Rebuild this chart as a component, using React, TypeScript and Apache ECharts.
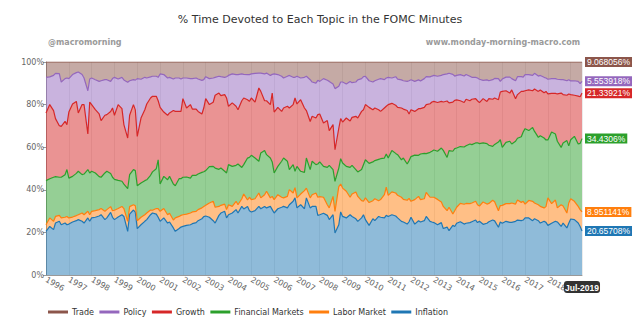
import React, { useEffect, useRef } from "react";
import * as echarts from "echarts";

// ---- categories / schedule ----
const legendOrder = ["Trade", "Policy", "Growth", "Financial Markets", "Labor Market", "Inflation"];
const firstYear = 1996;
const lastYear = 2019;
const meetingMonths = [1, 3, 5, 6, 8, 9, 11, 12];
const finalYearMonths = [1, 3, 5, 6, 7];
const monthNames = ["Jan", "Feb", "Mar", "Apr", "May", "Jun", "Jul", "Aug", "Sep", "Oct", "Nov", "Dec"];

// ---- series values (% share of minutes), one row per year ----
const trade = [
  7.2, 7.0, 6.3, 5.3, 5.5, 9.4, 7.8, 7.5,
  7.8, 5.9, 5.0, 4.7, 5.9, 7.5, 13.5, 8.0,
  7.5, 8.3, 9.1, 8.8, 8.3, 8.3, 9.1, 7.8,
  7.2, 8.0, 7.2, 8.4, 9.5, 8.8, 8.3, 8.5,
  7.8, 8.1, 7.2, 7.5, 7.0, 6.7, 6.7, 7.2,
  5.6, 5.9, 7.5, 7.2, 8.0, 7.5, 7.5, 8.0,
  7.5, 7.5, 7.8, 7.8, 7.5, 8.0, 8.6, 8.3,
  6.9, 7.8, 7.5, 7.2, 6.7, 6.9, 7.2, 6.9,
  6.3, 5.6, 5.9, 5.9, 5.6, 5.8, 5.9, 5.9,
  5.6, 5.3, 5.2, 5.2, 5.6, 5.2, 6.3, 5.8,
  5.6, 5.9, 6.7, 7.5, 6.7, 6.3, 7.2, 7.2,
  6.7, 7.5, 7.2, 6.7, 8.3, 9.4, 9.9, 8.6,
  9.1, 7.8, 8.6, 9.1, 10.3, 12.5, 11.4, 9.4,
  9.4, 10.3, 9.1, 9.7, 9.4, 8.4, 7.8, 6.9,
  6.7, 8.8, 9.4, 8.8, 8.1, 7.8, 8.3, 7.5,
  7.2, 7.5, 6.9, 8.0, 8.4, 8.8, 9.1, 8.8,
  8.3, 9.1, 8.4, 8.9, 7.8, 6.9, 7.0, 6.6,
  6.3, 6.7, 6.3, 5.9, 5.6, 5.3, 5.8, 6.6,
  6.3, 5.9, 6.6, 5.9, 6.7, 7.2, 7.2, 7.5,
  8.1, 8.6, 8.4, 8.8, 8.3, 7.7, 7.8, 9.1,
  8.0, 7.1, 7.1, 7.8, 8.8, 6.9, 6.9, 7.1,
  5.9, 5.9, 6.3, 5.3, 6.6, 6.3, 7.2, 7.5,
  8.1, 7.8, 7.8, 8.1, 8.3, 8.3, 8.8, 8.3,
  8.9, 8.8, 9.1, 10.2, 9.068056,
];

const policy = [
  16.7, 13.0, 16.5, 21.3, 24.4, 20.8, 20.1, 21.9,
  15.7, 13.8, 13.5, 19.2, 14.1, 12.5, 20.3, 10.8,
  12.5, 14.1, 15.3, 18.7, 16.7, 16.4, 14.1, 13.8,
  17.8, 12.0, 14.7, 21.0, 26.2, 16.2, 11.7, 14.0,
  27.1, 18.2, 15.2, 12.2, 9.9, 9.4, 9.4, 11.0,
  15.7, 17.6, 17.5, 16.7, 14.8, 15.7, 15.7, 15.2,
  9.7, 14.1, 12.2, 14.3, 14.6, 15.2, 15.8, 13.3,
  10.3, 12.2, 11.4, 8.4, 7.9, 8.9, 8.1, 10.0,
  14.5, 13.6, 14.9, 16.5, 12.6, 11.1, 11.8, 12.6,
  11.3, 13.5, 7.0, 8.6, 12.6, 13.0, 13.7, 8.8,
  17.9, 15.4, 16.5, 14.1, 14.1, 15.3, 12.8, 9.7,
  13.0, 10.2, 14.4, 16.1, 19.6, 16.1, 16.4, 16.1,
  15.3, 20.8, 18.9, 23.1, 19.1, 28.7, 19.7, 17.2,
  18.8, 16.0, 18.6, 16.3, 16.1, 17.9, 15.4, 15.5,
  13.3, 12.5, 13.0, 12.8, 14.3, 15.4, 13.3, 13.3,
  12.8, 11.9, 13.4, 13.3, 13.2, 13.3, 13.7, 15.6,
  14.1, 14.1, 13.5, 13.0, 13.5, 13.1, 12.6, 12.2,
  12.2, 12.3, 12.2, 12.9, 12.7, 13.9, 13.0, 11.4,
  11.5, 12.3, 12.4, 11.6, 11.5, 10.3, 10.0, 10.7,
  11.0, 8.6, 10.1, 8.4, 9.2, 9.2, 9.9, 5.0,
  5.8, 6.4, 7.5, 5.3, 8.4, 8.4, 6.9, 6.7,
  7.6, 7.2, 7.2, 7.4, 7.2, 6.8, 7.2, 6.3,
  6.9, 6.9, 6.9, 6.9, 6.3, 7.0, 6.8, 6.7,
  6.4, 6.8, 6.9, 6.1, 5.553918,
];

const growth = [
  31.8, 34.8, 31.3, 27.2, 24.2, 23.9, 25.0, 21.1,
  31.0, 34.0, 33.8, 27.4, 32.9, 32.6, 16.7, 33.3,
  31.3, 29.7, 29.4, 26.6, 27.1, 26.6, 29.1, 32.5,
  30.1, 35.6, 34.1, 27.9, 23.8, 27.9, 30.5, 28.5,
  23.2, 30.5, 33.3, 35.6, 36.3, 35.5, 34.0, 27.7,
  36.0, 30.2, 30.3, 29.8, 34.5, 34.9, 31.6, 31.6,
  36.9, 32.4, 34.5, 31.1, 31.1, 29.4, 27.4, 29.9,
  33.8, 29.1, 30.1, 34.2, 35.8, 34.0, 36.0, 35.2,
  27.4, 29.8, 27.7, 25.5, 31.3, 31.3, 27.4, 26.3,
  26.9, 26.3, 34.4, 28.9, 23.4, 25.3, 25.1, 32.3,
  28.6, 27.7, 23.4, 23.5, 25.8, 28.9, 28.2, 34.4,
  29.3, 33.6, 30.2, 22.3, 22.6, 21.1, 21.9, 23.2,
  22.5, 20.4, 22.0, 16.3, 21.1, 14.8, 18.7, 18.8,
  19.2, 22.7, 21.8, 22.5, 25.0, 25.3, 27.3, 25.8,
  25.9, 26.3, 24.5, 24.7, 23.3, 22.2, 23.5, 22.4,
  25.1, 22.2, 22.6, 22.2, 24.3, 23.0, 25.1, 21.9,
  22.0, 20.5, 21.9, 21.3, 21.6, 23.0, 22.8, 23.1,
  22.8, 22.9, 21.9, 22.7, 26.5, 22.4, 23.1, 22.7,
  22.6, 21.5, 20.9, 21.8, 20.3, 21.3, 20.8, 19.7,
  19.2, 20.8, 19.8, 21.9, 22.1, 21.8, 19.9, 22.4,
  26.3, 24.2, 22.6, 25.4, 20.0, 20.5, 21.3, 19.1,
  17.8, 19.1, 17.2, 19.9, 21.6, 21.5, 21.3, 22.8,
  21.6, 18.2, 19.1, 22.2, 25.5, 22.7, 21.3, 24.4,
  21.2, 19.3, 22.5, 21.9, 21.33921,
];

const financialMarkets = [
  20.7, 18.4, 20.7, 18.7, 17.9, 19.1, 20.0, 22.0,
  18.7, 19.1, 19.8, 20.4, 18.0, 19.1, 19.6, 19.6,
  18.8, 17.7, 15.5, 14.7, 18.0, 18.0, 15.6, 15.7,
  14.5, 13.2, 11.8, 11.5, 15.3, 15.0, 16.5, 16.5,
  16.4, 16.1, 16.0, 15.6, 16.3, 18.0, 18.7, 22.9,
  12.8, 15.1, 16.4, 17.3, 16.9, 15.1, 17.7, 17.2,
  17.6, 17.4, 16.4, 17.2, 16.9, 16.7, 16.7, 16.3,
  16.3, 17.1, 16.4, 18.4, 17.4, 17.5, 15.4, 17.2,
  18.8, 18.8, 16.9, 19.1, 14.7, 13.8, 19.7, 18.7,
  20.8, 19.1, 14.9, 21.1, 20.7, 17.2, 18.7, 16.2,
  12.5, 13.3, 16.9, 18.7, 16.5, 9.4, 13.3, 7.7,
  14.8, 10.7, 8.6, 14.1, 13.3, 15.7, 13.3, 15.6,
  16.3, 14.5, 17.5, 20.0, 12.6, 14.1, 8.7, 11.9,
  11.8, 11.7, 14.0, 13.5, 10.5, 11.5, 14.6, 17.2,
  17.9, 18.4, 18.2, 17.9, 19.4, 19.2, 17.2, 15.6,
  17.5, 19.4, 18.6, 19.1, 17.6, 19.4, 17.0, 17.7,
  21.0, 20.9, 19.3, 21.4, 21.3, 18.2, 21.1, 21.6,
  22.2, 22.6, 25.3, 26.3, 25.0, 26.6, 29.5, 29.1,
  27.8, 26.7, 26.9, 27.1, 28.0, 27.4, 27.4, 29.1,
  29.3, 27.7, 28.4, 27.3, 25.3, 26.9, 32.2, 30.9,
  27.2, 28.8, 29.3, 27.7, 29.5, 29.0, 30.8, 32.5,
  35.4, 32.8, 34.7, 33.6, 31.6, 33.2, 32.8, 31.3,
  27.2, 33.6, 31.0, 31.3, 26.9, 29.6, 34.0, 26.8,
  27.7, 30.5, 29.3, 31.1, 34.4306,
];

const laborMarket = [
  3.1, 4.0, 3.9, 3.1, 2.8, 3.2, 2.7, 3.9,
  2.9, 2.3, 2.4, 2.3, 3.9, 3.9, 3.1, 3.1,
  3.1, 3.1, 3.0, 2.9, 3.9, 3.9, 2.7, 3.1,
  4.4, 4.0, 3.9, 3.7, 4.7, 3.5, 2.5, 3.0,
  3.7, 3.5, 3.1, 3.1, 2.2, 1.3, 2.6, 4.1,
  4.7, 4.4, 3.9, 4.1, 3.7, 6.3, 5.7, 5.5,
  5.5, 5.3, 5.5, 5.5, 5.3, 5.2, 5.1, 4.8,
  5.0, 6.7, 9.1, 7.4, 4.2, 3.6, 3.4, 3.9,
  4.7, 3.1, 3.9, 3.9, 3.6, 7.0, 3.0, 6.3,
  5.8, 5.6, 6.3, 5.1, 5.5, 7.8, 4.0, 6.2,
  6.3, 6.6, 4.7, 4.0, 5.4, 7.1, 3.9, 4.8,
  4.7, 5.0, 8.5, 4.6, 4.7, 5.5, 6.3, 8.5,
  8.5, 7.5, 5.0, 5.5, 8.6, 10.2, 17.9, 13.1,
  13.3, 12.5, 8.2, 10.5, 12.6, 11.7, 8.1, 6.3,
  10.2, 10.7, 8.5, 10.3, 7.4, 8.3, 10.9, 13.2,
  9.9, 10.7, 10.8, 10.6, 11.3, 10.6, 11.2, 11.0,
  7.5, 11.5, 11.4, 10.5, 10.3, 11.3, 11.3, 11.6,
  11.9, 11.9, 9.7, 10.4, 7.7, 11.0, 5.3, 7.4,
  7.5, 8.6, 9.3, 9.3, 8.9, 8.8, 8.8, 8.4,
  7.2, 10.5, 9.0, 8.6, 9.3, 9.0, 7.8, 7.7,
  8.4, 8.3, 8.8, 9.1, 8.1, 9.4, 8.6, 8.8,
  6.5, 8.2, 9.1, 7.4, 7.5, 7.8, 6.3, 7.4,
  12.9, 9.2, 10.0, 6.6, 10.2, 8.0, 7.0, 9.5,
  9.5, 8.6, 7.8, 7.9, 8.951141,
];

const inflation = [
  20.5, 22.8, 21.3, 24.4, 25.2, 23.6, 24.4, 23.6,
  23.9, 24.9, 25.5, 26.0, 25.2, 24.4, 26.8, 25.2,
  26.8, 27.1, 27.7, 28.3, 26.0, 26.8, 29.4, 27.1,
  26.0, 27.2, 28.3, 27.5, 20.5, 28.6, 30.5, 29.5,
  21.8, 23.6, 25.2, 26.0, 28.3, 29.1, 28.6, 27.1,
  25.2, 26.8, 24.4, 24.9, 22.1, 20.5, 21.8, 22.5,
  22.8, 23.3, 23.6, 24.1, 24.6, 25.5, 26.4, 27.4,
  27.7, 27.1, 25.5, 24.4, 28.0, 29.1, 29.9, 26.8,
  28.3, 29.1, 30.7, 29.1, 32.2, 31.0, 32.2, 30.2,
  29.6, 30.2, 32.2, 31.1, 32.2, 31.5, 32.2, 30.7,
  29.1, 31.1, 31.8, 32.2, 31.5, 33.0, 34.6, 36.2,
  31.5, 33.0, 31.1, 36.2, 31.5, 32.2, 32.2, 28.0,
  28.3, 29.0, 28.0, 26.0, 28.3, 19.7, 23.6, 29.6,
  27.5, 26.8, 28.3, 27.5, 26.4, 25.2, 26.8, 28.3,
  26.0, 23.3, 26.4, 25.5, 27.5, 27.1, 26.8, 28.0,
  27.5, 28.3, 27.7, 26.8, 25.2, 24.9, 23.9, 25.0,
  27.1, 23.9, 25.5, 24.9, 25.5, 27.5, 25.2, 24.9,
  24.6, 23.6, 24.6, 21.8, 22.5, 20.8, 23.3, 22.8,
  24.3, 25.0, 23.9, 24.3, 24.6, 25.0, 25.8, 24.6,
  25.2, 23.8, 24.3, 25.0, 25.8, 25.4, 22.4, 24.9,
  24.3, 25.2, 24.7, 24.7, 25.2, 25.8, 25.5, 25.8,
  26.8, 26.8, 25.5, 26.4, 25.5, 24.4, 25.2, 24.7,
  23.3, 24.3, 25.2, 24.9, 22.8, 24.4, 22.1, 24.3,
  26.3, 26.0, 24.4, 22.8, 20.65708,
];

const seriesColors: Record<string, string> = {
  Trade: "#8c564b",
  Policy: "#9467bd",
  Growth: "#d62728",
  "Financial Markets": "#2ca02c",
  "Labor Market": "#ff7f0e",
  Inflation: "#1f77b4",
};

const ONE_YEAR = 365 * 24 * 3600 * 1000;

// meeting dates (first of meeting month), 1996 .. Jul 2019
function buildDates(): { x: number; label: string }[] {
  const out: { x: number; label: string }[] = [];
  for (let y = firstYear; y <= lastYear; y++) {
    const months = y === lastYear ? finalYearMonths : meetingMonths;
    months.forEach((m) =>
      out.push({ x: new Date(y, m - 1, 1).getTime(), label: `${monthNames[m - 1]}-${y}` })
    );
  }
  return out;
}

function fmtVal(v: number): string {
  return String(Number(v.toPrecision(7)));
}

export default function App() {
  const ref = useRef<HTMLDivElement>(null);

  useEffect(() => {
    if (!ref.current) return;
    const chart = echarts.init(ref.current, undefined, { renderer: "svg" });
    const dates = buildDates();
    const lastPoint = dates[dates.length - 1];

    const stackOrder: [string, number[]][] = [
      ["Inflation", inflation],
      ["Labor Market", laborMarket],
      ["Financial Markets", financialMarkets],
      ["Growth", growth],
      ["Policy", policy],
      ["Trade", trade],
    ];

    const font = "DejaVu Sans";

    const series = stackOrder.map(([name, vals]) => {
      const c = seriesColors[name];
      return {
        name,
        type: "line",
        stack: "total",
        symbol: "none",
        silent: true,
        color: c,
        lineStyle: { width: 1.2, color: c },
        areaStyle: { color: c, opacity: 0.5 },
        data: vals.map((v, i) => [dates[i].x, v]),
        endLabel: {
          show: true,
          formatter: (p: any) => fmtVal(p.value[1]) + "%",
          backgroundColor: c,
          color: "#fff",
          fontSize: 8.5,
          fontFamily: "Liberation Sans, Arial",
          padding: [1, 2, 0, 2],
          distance: 3,
        },
      };
    });

    chart.setOption({
      animation: false,
      backgroundColor: "#fff",
      title: {
        text: "% Time Devoted to Each Topic in the FOMC Minutes",
        left: "center",
        top: 9,
        textStyle: { fontSize: 11, fontWeight: "normal", color: "#333", fontFamily: font },
      },
      graphic: [
        {
          type: "text",
          left: 48,
          top: 38,
          style: { text: "@macromorning", fill: "#9a9a9a", font: `bold 8px ${font}` },
        },
        {
          type: "text",
          right: 60,
          top: 38,
          style: { text: "www.monday-morning-macro.com", fill: "#9a9a9a", font: `bold 8px ${font}` },
        },
      ],
      legend: {
        data: legendOrder,
        left: 43,
        top: 303,
        icon: "rect",
        itemWidth: 20,
        itemHeight: 3,
        itemGap: 5.5,
        textStyle: { fontSize: 8, color: "#333", fontFamily: font, padding: [0, 0, 0, -1] },
      },
      grid: { left: 46, right: 58, top: 62, bottom: 47 },
      xAxis: {
        type: "time",
        min: dates[0].x,
        max: lastPoint.x,
        minInterval: ONE_YEAR,
        maxInterval: ONE_YEAR,
        axisLine: { show: true, lineStyle: { color: "#999" } },
        axisTick: { show: false },
        splitLine: { show: true, lineStyle: { color: "rgba(0,0,0,0.08)" } },
        axisLabel: {
          rotate: -30,
          fontSize: 8,
          color: "#666",
          fontFamily: font,
          margin: 4,
          formatter: (v: number) => {
            const d = new Date(v);
            return d.getMonth() === 0 && d.getDate() === 1 && d.getFullYear() < lastYear
              ? String(d.getFullYear())
              : "";
          },
        },
        axisPointer: {
          show: true,
          value: lastPoint.x,
          status: "show",
          snap: false,
          triggerTooltip: false,
          lineStyle: { opacity: 0 },
          label: {
            show: true,
            formatter: () => lastPoint.label,
            backgroundColor: "#333",
            color: "#fff",
            fontWeight: "bold",
            fontSize: 8.5,
            fontFamily: "Liberation Sans, Arial",
            padding: [2, 1, 1, 1],
            margin: 6,
          },
        },
      },
      yAxis: {
        type: "value",
        min: 0,
        max: 100,
        interval: 20,
        axisLine: { show: true, lineStyle: { color: "#999" } },
        axisTick: { show: true, length: 3, lineStyle: { color: "#999" } },
        splitLine: { show: false },
        axisLabel: {
          formatter: (v: number) => `${v}%`,
          fontSize: 8,
          color: "#666",
          fontFamily: font,
          margin: 2,
        },
      },
      series,
    });

    return () => chart.dispose();
  }, []);

  return (
    <div
      ref={ref}
      style={{ position: "fixed", left: 0, top: 0, width: 640, height: 322 }}
    />
  );
}
